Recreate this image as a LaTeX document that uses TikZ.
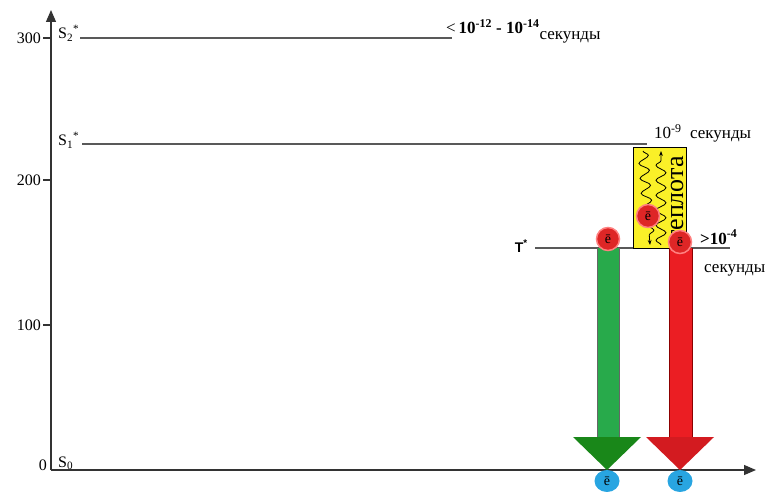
\documentclass[tikz,border=0pt]{standalone}
\usepackage{fontspec}
\setmainfont{Liberation Serif}
\newfontfamily\labelsans{Liberation Sans}
\usetikzlibrary{arrows.meta,calc,positioning,decorations.pathmorphing,shapes.geometric}

\definecolor{boxyellow}{RGB}{250,240,40}
\definecolor{shaftgreen}{RGB}{40,170,75}
\definecolor{headgreen}{RGB}{25,135,25}
\definecolor{arrowred}{RGB}{235,30,35}
\definecolor{eblue}{RGB}{40,165,225}
\definecolor{ered}{RGB}{222,38,38}

\begin{document}
\begin{tikzpicture}[
  x=1pt,y=-1pt,
  axis/.style={line width=1.2pt,draw=black!80,-{Triangle[length=12pt,width=10pt]}},
  level/.style={line width=1.3pt,draw=black!65},
  tick/.style={line width=1.1pt,draw=black!80},
  ticklabel/.style={font=\fontsize{16}{18}\selectfont,anchor=east,inner sep=1pt},
  statelabel/.style={font=\fontsize{16}{18}\selectfont,anchor=base west,inner sep=0pt},
  timelabel/.style={font=\fontsize{17}{19}\selectfont,anchor=base west,inner sep=0pt},
  electron/.style={circle,minimum size=23pt,inner sep=0pt,
                   font=\fontsize{14}{14}\selectfont},
  redel/.style={electron,fill=ered,draw=red!50,line width=1.5pt},
  blueel/.style={electron,ellipse,minimum width=25pt,minimum height=22pt,fill=eblue},
  wave/.style={decorate,decoration={snake,amplitude=5pt,segment length=15pt,
               post length=5pt},line width=0.8pt,-{Stealth[length=5pt]}},
  shaft/.style={draw=black!60,line width=1pt}
]
\useasboundingbox (0,0) rectangle (773,492);

% axes
\coordinate (O)  at (51,470);
\coordinate (Yt) at (51,10);
\coordinate (Xt) at (756,470);
\draw[axis] (O) -- (Yt);
\draw[axis] (O) -- (Xt);

% ticks
\foreach \val/\ypos in {300/38,200/180,100/325}{
  \draw[tick] (43,\ypos) -- (51,\ypos);
  \node[ticklabel] (t\val) at (42,\ypos) {\val};
}
\node[ticklabel] (t0) at (48,465) {0};

% levels
\coordinate (S2a) at (80,38);   \coordinate (S2b) at (452,38);
\coordinate (S1a) at (82,144);  \coordinate (S1b) at (647,144);
\coordinate (Ta)  at (535,248); \coordinate (Tb)  at (730,248);
\draw[level] (S2a) -- (S2b);
\draw[level] (S1a) -- (S1b);
\draw[level] (Ta) -- (Tb);

\node[statelabel] (lS2) at (58,39)  {S\textsubscript{2}\textsuperscript{*}};
\node[statelabel] (lS1) at (58,146) {S\textsubscript{1}\textsuperscript{*}};
\node[statelabel] (lS0) at (58,467) {S\textsubscript{0}};
\node[font=\labelsans\bfseries\fontsize{14}{17}\selectfont,anchor=base east,inner sep=0pt]
  (lT) at (528,252) {T\textsuperscript{*}};

% times
\node[timelabel] (tS2) at (446,34)
  {<\,\textbf{10\textsuperscript{-12} - 10\textsuperscript{-14}}\raisebox{-6pt}{секунды}};
\node[timelabel] (tS1) at (654,139) {10\textsuperscript{-9}\ \ секунды};
\node[timelabel,font=\bfseries\fontsize{17}{19}\selectfont] (tT) at (700,244)
  {>10\textsuperscript{-4}};
\node[timelabel] (tT2) at (704,272) {секунды};

% heat box
\coordinate (Ha) at (633,147);
\coordinate (Hb) at (686,248);
\draw[fill=boxyellow,line width=1pt] (Ha) rectangle (Hb);
\begin{scope}
  \clip (Ha) rectangle (Hb);
  \node[rotate=90,font=\fontsize{26}{26}\selectfont,inner sep=0pt] (heat)
    at (677,199) {теплота};
\end{scope}
\coordinate (w1a) at (643,151); \coordinate (w1b) at (650,245);
\coordinate (w2a) at (661,245); \coordinate (w2b) at (661,151);
\draw[wave] (w1a) -- (w1b);
\draw[wave] (w2a) -- (w2b);
\node[redel] (eh) at (648,216) {\=e};

% green arrow
\coordinate (gtop) at (608,248);
\coordinate (gtip) at (607,470);
\fill[shaftgreen] ($(gtop)+(-11,0)$) rectangle ($(gtip)+(12,-33)$);
\draw[shaft] ($(gtop)+(-11,0)$) -- ($(gtip)+(-10,-33)$)
             ($(gtop)+(11,0)$) -- ($(gtip)+(12,-33)$);
\fill[headgreen] ($(gtip)+(-34,-33)$) -- ($(gtip)+(34,-33)$) -- (gtip) -- cycle;

% red arrow
\coordinate (rtop) at (680,248);
\coordinate (rtip) at (680,470);
\fill[arrowred] ($(rtop)+(-11,0)$) rectangle ($(rtip)+(12,-33)$);
\draw[shaft,draw=red!55!black] ($(rtop)+(-11,0)$) -- ($(rtip)+(-11,-33)$)
             ($(rtop)+(12,0)$) -- ($(rtip)+(12,-33)$);
\fill[arrowred!90!black] ($(rtip)+(-34,-33)$) -- ($(rtip)+(34,-33)$) -- (rtip) -- cycle;

% electrons
\node[redel] (eg) at (608,239) {\=e};
\node[redel] (er) at (680,242) {\=e};
\node[blueel] (bg) at (607,481) {\=e};
\node[blueel] (br) at (680,481) {\=e};
\end{tikzpicture}
\end{document}
